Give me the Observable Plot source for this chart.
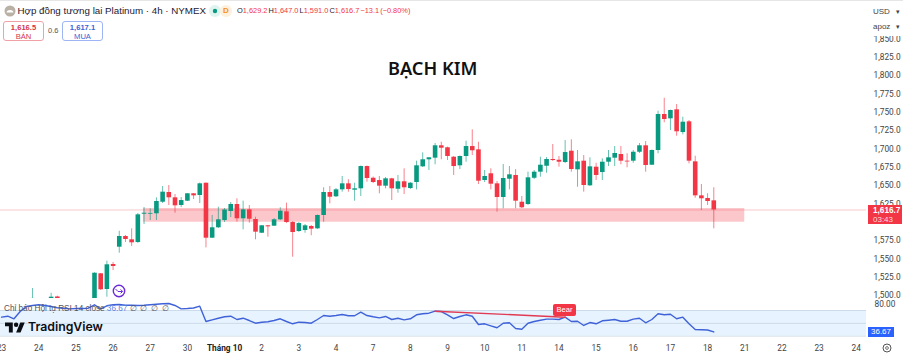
<!DOCTYPE html>
<html><head><meta charset="utf-8">
<script src="https://cdn.jsdelivr.net/npm/d3@7"></script>
<script src="https://cdn.jsdelivr.net/npm/@observablehq/plot@0.6"></script>
<style>
html,body{margin:0;padding:0;background:#fff;overflow:hidden}
#stage{position:relative;width:903px;height:355px;overflow:hidden;font-family:"Liberation Sans",Arial,sans-serif;color:#131722}
#stage>div.abs,#stage>svg.abs{position:absolute}
#main,#rsi{position:absolute;left:0}
#main{top:0}#rsi{top:298px}
#main svg,#rsi svg{display:block;background:transparent;overflow:visible}
.lbl{position:absolute;white-space:nowrap}
.box{position:absolute;box-sizing:border-box;border-radius:3px;background:#fff;text-align:center;line-height:9px;padding-top:1px}
</style></head><body>
<div id="stage">
<div id="main"></div><div id="rsi"></div>
<div class="abs" style="position:absolute;left:0;top:0;width:903px;height:1px;background:#e6e6e6"></div>
<div class="lbl" style="left:388px;top:55px;font:600 18.2px 'Noto Sans',sans-serif;color:#111;line-height:26px">BẠCH KIM</div>
<svg class="abs" width="14" height="14" style="left:3px;top:4px"><circle cx="7" cy="7" r="5.5" fill="#b9b0a6"/><path d="M3.6 8.6a3.4 2.6 0 0 1 6.8 0z" fill="#fff"/></svg>
<div class="lbl" style="left:17.5px;top:4px;font-size:9.75px;line-height:14px;color:#1c2030">Hợp đồng tương lai Platinum · 4h · NYMEX</div>
<svg class="abs" width="24" height="12" style="left:209px;top:5px"><rect x="0" y="0" width="12" height="12" rx="6" fill="#dff3ef"/><circle cx="6" cy="6" r="2.2" fill="#089981"/><rect x="11" y="0" width="12" height="12" rx="6" fill="#fdf0dc"/></svg>
<div class="lbl" style="left:223px;top:6px;font-size:8px;font-weight:700;line-height:10px;color:#f5921b">D</div>
<div class="lbl" id="ohlc" style="left:237px;top:5px;font-size:7.4px;word-spacing:-1px;line-height:12px;color:#f23645"><span style="color:#1c2030">O</span>1,629.2 <span style="color:#1c2030">H</span>1,647.0 <span style="color:#1c2030">L</span>1,591.0 <span style="color:#1c2030">C</span>1,616.7 −13.1 (−0.80%)</div>
<div class="box" style="left:3px;top:21px;width:41px;height:20px;border:1px solid #f2a0a8;color:#d6354a;font-size:7.6px"><b style="font-weight:600">1,616.5</b><br>BÁN</div>
<div class="lbl" style="left:48px;top:26px;font-size:7.5px;line-height:10px;color:#555">0.6</div>
<div class="box" style="left:62px;top:21px;width:41px;height:20px;border:1px solid #9db4f5;color:#3a62d8;font-size:7.6px"><b style="font-weight:600">1,617.1</b><br>MUA</div>
<div class="abs" style="position:absolute;left:871px;top:5px;width:32px;height:31px;background:#fff"></div>
<div class="lbl" style="left:873px;top:6px;font-size:8px;line-height:11px;color:#444">USD</div>
<div class="lbl" style="left:896px;top:6px;font-size:7px;line-height:11px;color:#444">▾</div>
<div class="lbl" style="left:873px;top:21px;font-size:8px;line-height:11px;color:#444">apoz</div>
<div class="lbl" style="left:896px;top:21px;font-size:7px;line-height:11px;color:#444">▾</div>
<div class="abs" style="position:absolute;left:868px;top:205px;width:34px;height:19px;background:#f23645"></div>
<div class="lbl" style="left:873px;top:205.5px;font-size:8.2px;font-weight:700;line-height:10px;color:#fff">1,616.7</div>
<div class="lbl" style="left:873px;top:214.5px;font-size:8px;line-height:9px;color:#ffd9dc">03:43</div>
<svg class="abs" width="14" height="14" style="left:112px;top:284px"><circle cx="7" cy="7" r="5.7" fill="#fff" stroke="#6a2cd8" stroke-width="1.4"/><path d="M3.5 5l2.5 2.5h4.5M8.6 5.4l2 2-2 2" fill="none" stroke="#6a2cd8" stroke-width="1"/></svg>
<div class="lbl" style="left:4px;top:303px;font-size:8.2px;line-height:11px;color:#50535e">Chỉ báo Hội tụ RSI 14 close <span style="color:#5b7fe0">36.67</span> <span style="color:#50535e;letter-spacing:.7px">∅ ∅ ∅ ∅</span></div>
<svg class="abs" width="20" height="16" viewBox="0 0 36 28" style="left:5px;top:320px"><path d="M14 22H7V11H0V4h14v18zM28 22h-8l7.5-18h8L28 22z" fill="#0b0e14"/><circle cx="20" cy="8" r="4" fill="#0b0e14"/></svg>
<div class="lbl" style="left:28px;top:318px;font:600 12.3px 'Inter',sans-serif;line-height:17px;color:#0b0e14">TradingView</div>
<div class="abs" style="position:absolute;left:553px;top:304px;width:23px;height:12px;border-radius:2px;background:#f23645"></div>
<div class="lbl" style="left:553px;top:304px;width:23px;text-align:center;font-size:7.6px;line-height:12px;color:#fff">Bear</div>
<div class="abs" style="position:absolute;left:868px;top:327px;width:26px;height:9.5px;background:#2962ff"></div>
<div class="lbl" style="left:868px;top:327px;width:26px;text-align:center;font-size:8px;line-height:9.5px;color:#fff">36.67</div>
<svg class="abs" width="12" height="12" style="left:881px;top:342px"><circle cx="6" cy="6" r="4" fill="none" stroke="#555" stroke-width="1"/><circle cx="6" cy="6" r="1.4" fill="none" stroke="#555" stroke-width=".8"/></svg>
</div>
<script>
const opens=[null,null,null,null,null,1488,null,null,1490,1498,null,null,null,null,null,
1490,1529.6,1508.2,1542.3,1565.9,1580.5,1576,1572.3,1610.9,1611,1611.5,1627.3,1640.6,1633.3,1622.8,1628.7,1638.8,1636.5,1653.2,1578.2,1592.4,1602.3,1614.6,1624.2,1604.7,1616.9,1603.7,1585,1595.1,1594.6,1603.3,1614.2,1599.6,1587.3,1588.7,1594.2,1591,1609.2,1640.6,1634.7,1644.2,1652.4,1643.7,1645.6,1676,1660,1656.9,1649.2,1659.2,1645,1655.2,1646,1654.2,1675.6,1685.2,1687.4,1704.3,1701.6,1688.7,1677,1689.7,1703.3,1698.8,1656.9,1666.1,1652.4,1633.7,1658.7,1663.8,1627.3,1624.2,1660,1668.3,1676.4,1685.6,1684.6,1681.5,1696.9,1671.5,1683.3,1649.7,1675.1,1667.8,1681.9,1687.4,1692.4,1683.3,1683.3,1695.5,1704.3,1677.8,1697.9,1747,1741.1,1753.4,1722.4,1737,1682.4,1636,1632.4,1629.2];
const highs=[null,null,null,null,null,1509.5,null,null,1503,1499,null,null,null,null,null,
1531,1530,1546.8,1545,1587.7,1581.9,1591,1611.9,1620,1618.3,1633.3,1648.7,1650.1,1637.8,1633.7,1639,1639,1653.5,1653.5,1609.2,1620.5,1618.7,1626.9,1632,1628.7,1622.8,1606.8,1595.5,1595.5,1605,1619.7,1626,1601,1599.6,1596.9,1595.5,1610,1647,1648.7,1646,1662.4,1657.9,1653.2,1676.7,1676.7,1661.7,1662.4,1661,1660,1663.8,1672.9,1654.2,1683.3,1694.7,1688.3,1707.4,1709.2,1702.5,1689.7,1690.4,1710.6,1726.1,1709.2,1670.6,1672.9,1655.6,1678.8,1676,1671.9,1635.1,1668.3,1670.6,1688.7,1688.3,1706,1689.7,1711.5,1712.5,1697.9,1691,1687.9,1680.5,1686.5,1697.9,1703.3,1703.3,1693.4,1697.9,1707.4,1710.1,1698.6,1751.5,1769.2,1753,1760.6,1743.3,1738.8,1690.1,1651.5,1638.8,1647];
const lows=[null,null,null,null,null,1480,null,null,1485,1485,null,null,null,null,null,
1485,1507,1497.7,1534,1557.7,1572.3,1566.9,1571,1596.9,1602.3,1602.3,1625.5,1622.8,1612.3,1620,1628.3,1631,1625.5,1565,1577.8,1591.4,1599.6,1606.4,1600,1589.7,1598.7,1576,1584.6,1579.6,1594.2,1602.3,1598.2,1552.3,1586,1585,1581.5,1590,1600,1625.1,1633.7,1641,1641,1628.7,1635.1,1654.6,1652.8,1638.8,1645.6,1629.6,1639.6,1637.8,1644.6,1644.2,1674.7,1670.6,1678.4,1685.2,1684.2,1663.8,1671.9,1681.9,1691,1651.5,1654.2,1644.2,1613.7,1618.3,1644.2,1618.3,1618.7,1622.8,1658.3,1661.4,1666.9,1682.9,1675.1,1680.1,1668.3,1647.8,1641,1648.7,1656.9,1656.9,1676,1676,1678.4,1674.3,1680.5,1693.8,1668.3,1677.4,1693.4,1735.7,1725.2,1717.4,1719.3,1679.7,1632.8,1616,1622.8,1591];
const closes=[null,null,null,null,null,1496,null,null,1497.7,1490,null,null,null,null,null,
1530.4,1507.8,1541.9,1539.6,1580.5,1576.4,1571.9,1610.1,1612.3,1612,1628.3,1641,1633.3,1622.4,1629.6,1638.8,1636,1652.4,1578.2,1592.4,1603.3,1616.7,1624.2,1604.7,1616.9,1604.1,1586.4,1595.1,1593.7,1603.3,1615,1599.6,1586,1598.2,1595.1,1590.5,1609.2,1640.6,1634.1,1644.2,1652.4,1644.6,1645.6,1676,1659.7,1654.2,1649.2,1659.2,1645.6,1655.2,1647,1653.2,1677,1685.2,1687.9,1704.3,1701,1689.7,1676,1689.7,1703.3,1697.5,1656,1662.4,1651.9,1633.7,1659.7,1664.7,1628.7,1619.7,1660.6,1668.3,1677.8,1685.6,1684.2,1681.9,1695.1,1671.9,1682.4,1650.1,1675.6,1663.8,1681.9,1687.9,1693.8,1683.3,1682.2,1695.5,1704.3,1677.4,1697.9,1747,1740.2,1752.5,1723.4,1736.5,1683.3,1636,1632,1628.3,1616.7];
const rsiValues=[59.6,61.1,57.1,68.4,76.2,77.8,78.9,77.8,76.2,74.2,73.6,72.6,73.1,73.1,73.6,78.9,72.6,77.3,78.9,79.3,78.2,78.2,77.8,78.2,78.9,79.8,80.4,80.9,77.8,72.6,73.1,73.9,76.7,52.9,55.5,58,60.2,61.1,56,58,54.4,50.2,51.8,52.4,54.4,57.1,52.9,49.3,51.8,51.3,50.2,56,62.2,61.1,62.2,63.8,61.8,61.8,67.4,62.2,60.2,58.6,60.7,56,58,55.5,57.1,63.3,64.9,65.8,68.9,68.4,63.3,57.5,60.7,63.3,61.1,48.2,49.3,46.2,43.1,50.2,50.9,42,40.9,50.2,52.9,54.9,56.5,56.5,56,59.6,52.9,53.3,46.7,51.3,49.3,54,54.9,56,53.3,53.3,56.5,58,50.9,56,64.9,63.3,64.2,57.1,59.6,49.3,40.4,40.1,39.6,36.67];
const priceTicks=[1500,1525,1550,1575,1625,1650,1675,1700,1725,1750,1775,1800,1825,1850];
const dayTicks=[0,6,12,18,24,30,42,48,54,60,66,72,78,84,90,96,102,108,114,120,126,132,138];
const dayLabels=["23","24","25","26","27","30","2","3","4","7","8","9","10","11","14","15","16","17","18","21","22","23","24"];
const monthTick=[36], monthLabel=["Tháng 10"];
const zoneStart=22.9, zoneEnd=120, zoneLow=1600, zoneHigh=1618.7;
const lastPrice=1616.7;
const bearIndex=[70,91], bearRsi=[68.9,59.6];
const rsiLevels=[70,50,30];

const GREEN="#089981", RED="#f23645", FONT="Roboto, sans-serif";
const xOpts={domain:[-0.1776,139.66],range:[0,866],axis:null};
const bars=opens.map((o,i)=>o==null?null:{i,open:o,high:highs[i],low:lows[i],close:closes[i],col:closes[i]>=o?GREEN:RED}).filter(Boolean);
const rsiRows=rsiValues.map((v,i)=>({i,v}));

const main=Plot.plot({width:903,height:298,marginTop:0,marginBottom:0,marginLeft:0,marginRight:37,
  style:{background:"transparent",fontFamily:FONT,fontSize:"8.3px",color:"#444"},
  x:xOpts,y:{domain:[1495.9,1902.6],range:[298,0],axis:null},
  marks:[
    Plot.axisY({anchor:"right",ticks:priceTicks,tickSize:0,tickPadding:7,tickFormat:d3.format(",.1f"),label:null,fill:"#444"}),
    Plot.ruleY([lastPrice],{stroke:RED,strokeOpacity:.28,strokeWidth:1}),
    Plot.rect([{a:zoneStart,b:zoneEnd,l:zoneLow,h:zoneHigh}],{x1:"a",x2:"b",y1:"l",y2:"h",fill:RED,fillOpacity:.28}),
    Plot.ruleX(bars,{x:"i",y1:"low",y2:"high",stroke:"col",strokeWidth:1,strokeOpacity:.62,clip:true}),
    Plot.ruleX(bars,{x:"i",y1:"open",y2:"close",stroke:"col",strokeWidth:4.6,clip:true})
  ]});
document.getElementById("main").append(main);

const rsi=Plot.plot({width:903,height:57,marginTop:0,marginBottom:14,marginLeft:0,marginRight:37,
  style:{background:"transparent",fontFamily:FONT,fontSize:"8.3px",color:"#444"},
  x:xOpts,y:{domain:[21.75,88.68],range:[43,0],axis:null},
  marks:[
    Plot.rect([{a:xOpts.domain[0],b:xOpts.domain[1],l:rsiLevels[2],h:rsiLevels[0]}],{x1:"a",x2:"b",y1:"l",y2:"h",fill:"#2196f3",fillOpacity:.11}),
    Plot.ruleY(rsiLevels,{stroke:"#b8c6d6",strokeOpacity:.55,strokeWidth:1}),
    Plot.axisY({anchor:"right",ticks:[80],tickSize:0,tickPadding:8,tickFormat:d3.format(".2f"),label:null,fill:"#444"}),
    Plot.lineY(rsiRows,{x:"i",y:"v",stroke:"#3f62d8",strokeWidth:1.4,curve:"linear"}),
    Plot.line(bearIndex.map((d,k)=>({x:d,y:bearRsi[k]})),{x:"x",y:"y",stroke:"#e23a52",strokeWidth:1.4}),
    Plot.axisX({anchor:"bottom",ticks:dayTicks,tickSize:0,tickPadding:4,tickFormat:d=>dayLabels[dayTicks.indexOf(d)],label:null,fill:"#444"}),
    Plot.axisX({anchor:"bottom",ticks:monthTick,tickSize:0,tickPadding:4,tickFormat:()=>monthLabel[0],label:null,fontWeight:"bold",fill:"#222"})
  ]});
document.getElementById("rsi").append(rsi);
</script>
</body></html>
